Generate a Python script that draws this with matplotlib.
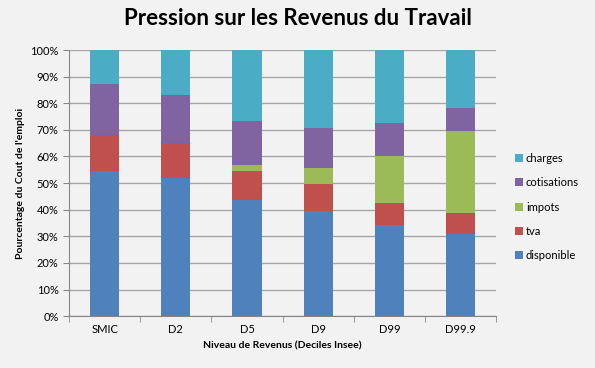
import matplotlib.pyplot as plt
from matplotlib.ticker import MultipleLocator, FixedLocator, PercentFormatter
import numpy as np

categories = ["SMIC", "D2", "D5", "D9", "D99", "D99.9"]
disponible = [54.5, 51.8, 43.5, 39.6, 34.1, 30.7]
tva = [13.4, 13.1, 10.9, 10.0, 8.6, 7.9]
impots = [0.0, 0.0, 2.5, 6.0, 17.3, 30.9]
cotisations = [19.3, 18.2, 16.4, 15.1, 12.6, 8.9]
charges = [12.8, 16.9, 26.7, 29.3, 27.4, 21.6]

series = [
    ("disponible", disponible, "#4F81BD"),
    ("tva", tva, "#C0504D"),
    ("impots", impots, "#9BBB59"),
    ("cotisations", cotisations, "#8064A2"),
    ("charges", charges, "#4BACC6"),
]

plt.rcParams['font.family'] = ['Lato', 'DejaVu Sans']
bg = "#F2F2F2"

fig = plt.figure(figsize=(5.95, 3.68), dpi=100, facecolor=bg)
ax = fig.add_axes([0.116, 0.141, 0.718, 0.723], facecolor=bg)

x = np.arange(len(categories))
bottom = np.zeros(len(categories))
for name, vals, color in series:
    ax.bar(x, vals, 0.41, bottom=bottom, color=color, label=name, zorder=3)
    bottom += np.array(vals)

ax.set_xlim(-0.5, len(categories) - 0.5)
ax.set_ylim(0, 100)
ax.yaxis.set_major_locator(MultipleLocator(10))
ax.yaxis.set_major_formatter(PercentFormatter(decimals=0))
ax.set_xticks(x)
ax.set_xticklabels(categories)
ax.xaxis.set_minor_locator(FixedLocator(np.arange(-0.5, len(categories), 1)))
ax.tick_params(axis='x', which='major', length=0, labelsize=8, pad=6)
ax.tick_params(axis='x', which='minor', length=4, color="#868686")
ax.tick_params(axis='y', length=4, color="#868686", labelsize=8)

ax.grid(axis='y', color="#A6A6A6", linewidth=1, zorder=0)
for s in ["top", "right"]:
    ax.spines[s].set_visible(False)
for s in ["left", "bottom"]:
    ax.spines[s].set_color("#868686")

ax.set_xlabel("Niveau de Revenus (Deciles Insee)", fontsize=7.5, fontweight='bold')
ax.set_ylabel("Pourcentage du Cout de l'emploi", fontsize=7.5, fontweight='bold')
fig.suptitle("Pression sur les Revenus du Travail", fontsize=16, fontweight='bold', y=0.978)

handles, labels = ax.get_legend_handles_labels()
ax.legend(handles[::-1], labels[::-1], loc='center left', bbox_to_anchor=(1.02, 0.41),
          frameon=False, fontsize=8, handlelength=0.7, handleheight=0.7,
          handletextpad=0.3, labelspacing=1.2)

fig.savefig("out.png", dpi=100, facecolor=bg)
